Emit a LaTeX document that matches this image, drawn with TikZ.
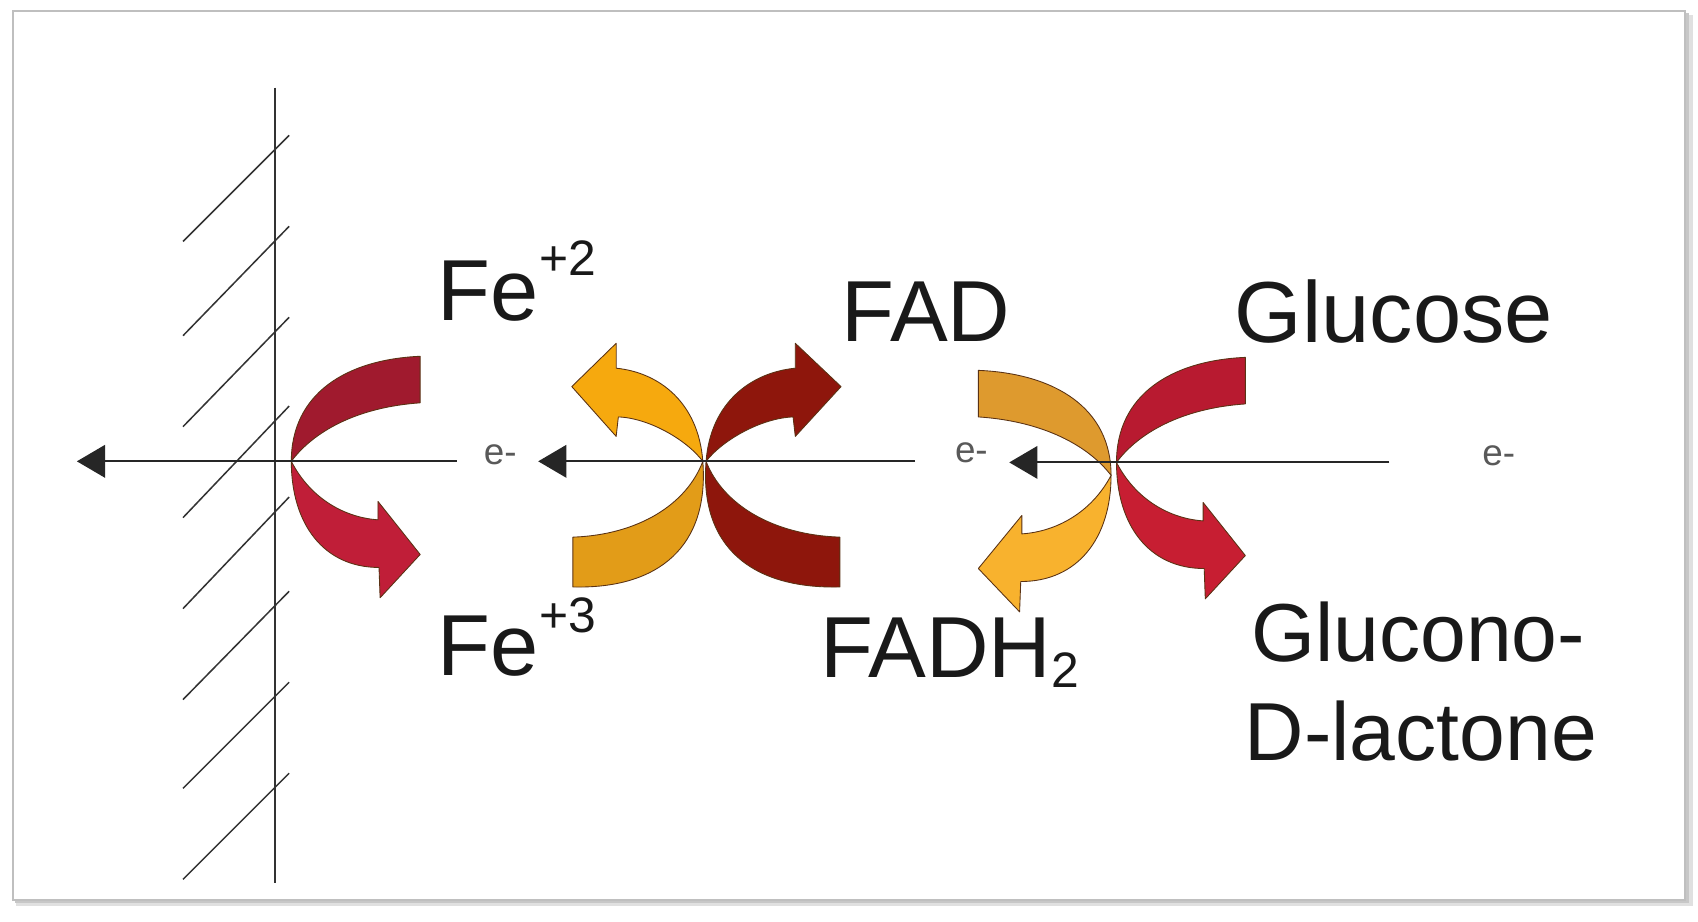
\documentclass[tikz,border=0pt]{standalone}
\usepackage{fontspec}
\setmainfont{Liberation Sans}
\usetikzlibrary{arrows.meta}
\definecolor{fetail}{RGB}{160,26,46}
\definecolor{fehead}{RGB}{192,30,56}
\definecolor{orgA}{RGB}{246,169,14}
\definecolor{orgB}{RGB}{226,156,24}
\definecolor{dred}{RGB}{142,22,12}
\definecolor{gred}{RGB}{184,26,48}
\definecolor{gredh}{RGB}{199,30,50}
\definecolor{orgC}{RGB}{222,154,46}
\definecolor{orgD}{RGB}{248,178,46}
\definecolor{bandline}{RGB}{90,50,20}
\newcommand\bandAtail[1]{\path[band,fill=#1] (0,0) .. controls (0,-62) and (50,-94) .. (119,-97) -- (119,-54) .. controls (60,-50) and (20,-27) .. (0,0) -- cycle;}
\newcommand\bandAhead[1]{\path[band,fill=#1] (0,0) .. controls (0,58) and (30,98) .. (81,98) -- (82,126) -- (119,86) -- (80,37) -- (80,54) .. controls (50,52) and (18,35) .. (0,0) -- cycle;}
\newcommand\bandBtail[1]{\path[band,fill=#1] (0,0) .. controls (6,78) and (-40,118) .. (-120,116) -- (-120,70) .. controls (-60,68) and (-15,40) .. (0,0) -- cycle;}
\newcommand\bandBhead[1]{\path[band,fill=#1] (0,0) .. controls (-4,-54) and (-40,-82) .. (-80,-86) -- (-80,-109) -- (-121,-69) -- (-80,-23) -- (-78,-41) .. controls (-50,-40) and (-15,-20) .. (0,0) -- cycle;}
\begin{document}
\begin{tikzpicture}[x=0.5pt,y=-0.5pt,
  elarrow/.style={line width=1pt, draw=black!85, -{Triangle[length=13pt,width=15pt]}},
  hatch/.style={line width=0.7pt, draw=black!80},
  band/.style={draw=bandline, line width=0.4pt, line join=round},
  lbl/.style={inner sep=0pt, anchor=base west, text=black!90, font=\fontsize{40}{40}\selectfont},
  lblsm/.style={lbl, font=\fontsize{38}{38}\selectfont},
  elbl/.style={inner sep=0pt, text=black!65, font=\fontsize{17}{17}\selectfont}]
\useasboundingbox (0,0) rectangle (1568,851);
% frame with shadow
\fill[black!12] (15,14) rectangle (1563,837);
\fill[black!22] (14,12) rectangle (1560,834);
\filldraw[fill=white, draw=black!25, line width=1pt] (12,10) rectangle (1556,831);
% electrode
\coordinate (wt) at (254,81);
\coordinate (wb) at (254,815);
\draw[hatch] (wt) -- (wb);
\foreach \r/\l [count=\i] in {125/223,209/310,293/394,375/478,459/562,546/646,630/728,714/812}{
  \coordinate (h\i r) at (267,\r);
  \coordinate (h\i l) at (169,\l);
  \draw[hatch] (h\i l) -- (h\i r);
}
% pair 1 (Fe)
\begin{scope}[shift={(269,426)}]
  \bandAtail{fetail}
  \bandAhead{fehead}
\end{scope}
% pair 2 (FAD)
\begin{scope}[shift={(649,426)}]
  \bandBtail{orgB}
  \bandBhead{orgA}
\end{scope}
\begin{scope}[shift={(652,426)},xscale=-1.03]
  \bandBtail{dred}
  \bandBhead{dred}
\end{scope}
% pair 3 (glucose)
\begin{scope}[shift={(1026,439)},xscale=-1.03]
  \bandAtail{orgC}
  \bandAhead{orgD}
\end{scope}
\begin{scope}[shift={(1031,427)}]
  \bandAtail{gred}
  \bandAhead{gredh}
\end{scope}
% electron arrows
\coordinate (a1s) at (422,426);
\coordinate (a1e) at (71,426);
\coordinate (a2s) at (845,426);
\coordinate (a2e) at (497,426);
\coordinate (a3s) at (1283,427);
\coordinate (a3e) at (932,427);
\draw[elarrow] (a1s) -- (a1e);
\draw[elarrow] (a2s) -- (a2e);
\draw[elarrow] (a3s) -- (a3e);
\node[elbl] (e1) at (462,420) {e-};
\node[elbl] (e2) at (897,418) {e-};
\node[elbl] (e3) at (1384,421) {e-};
% labels
\node[lbl] (fe2) at (404,296) {Fe\raisebox{21pt}{\fontsize{23}{23}\selectfont +2}};
\node[lbl] (fe3) at (404,624) {Fe\raisebox{20pt}{\fontsize{23}{23}\selectfont +3}};
\node[lbl] (fad) at (777,315) {FAD};
\node[lbl] (fadh) at (757,626) {FADH\raisebox{-4.5pt}{\fontsize{23}{23}\selectfont 2}};
\node[lbl] (glu) at (1140,316) {Glucose};
\node[lblsm] (glc1) at (1155,611) {Glucono-};
\node[lblsm] (glc2) at (1149,702) {D-lactone};
\end{tikzpicture}
\end{document}
